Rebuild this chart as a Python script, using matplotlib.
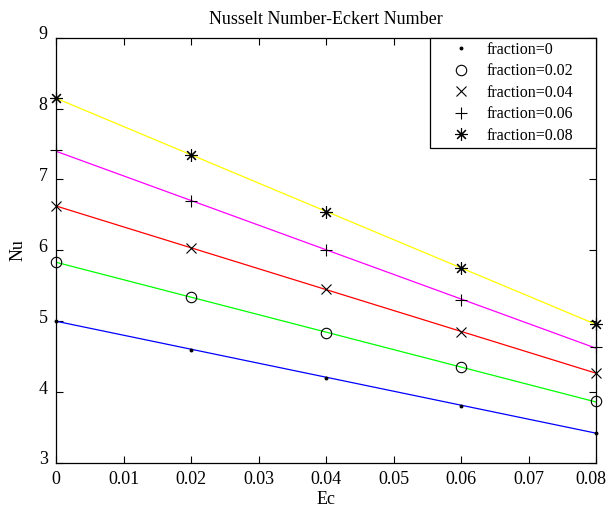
import numpy as np
import matplotlib
matplotlib.use("Agg")
import matplotlib.pyplot as plt
import matplotlib.transforms as mtransforms

ec = [0.0, 0.02, 0.04, 0.06, 0.08]
nu_f000 = [5.01, 4.60, 4.20, 3.81, 3.43]
nu_f002 = [5.84, 5.34, 4.83, 4.35, 3.87]
nu_f004 = [6.63, 6.03, 5.45, 4.85, 4.27]
nu_f006 = [7.41, 6.69, 6.01, 5.30, 4.63]
nu_f008 = [8.15, 7.35, 6.54, 5.75, 4.96]
labels = ["fraction=0", "fraction=0.02", "fraction=0.04", "fraction=0.06", "fraction=0.08"]
series = [nu_f000, nu_f002, nu_f004, nu_f006, nu_f008]
xticks = [0, 0.01, 0.02, 0.03, 0.04, 0.05, 0.06, 0.07, 0.08]
xticklabels = ["0", "0.01", "0.02", "0.03", "0.04", "0.05", "0.06", "0.07", "0.08"]
yticks = [3, 4, 5, 6, 7, 8, 9]

line_colors = ["#0000ff", "#00ff00", "#ff0000", "#ff00ff", "#ffff00"]
markers = [".", "o", "x", "+", (8, 2, 0)]
msizes = [4, 7.5, 7.5, 9, 9]

plt.rcParams['font.family'] = ['Liberation Serif', 'DejaVu Serif']

fig = plt.figure(figsize=(6.09, 5.13), dpi=100)
ax = fig.add_axes([0.092, 0.0975, 0.887, 0.829])

x = np.array(ec)
for ys, c in zip(series, line_colors):
    p = np.polyfit(x, np.array(ys), 1)
    ax.plot(x, np.polyval(p, x), color=c, lw=0.9, zorder=2)
for ys, m, ms, lab in zip(series, markers, msizes, labels):
    ax.plot(x, ys, linestyle="none", marker=m, markersize=ms, color="black",
            markerfacecolor="none" if m == "o" else "black",
            markeredgewidth=0.8, label=lab, zorder=3, clip_on=False)

ax.set_xlim(0, 0.08)
ax.set_ylim(3, 9)
ax.set_xticks(xticks)
ax.set_xticklabels(xticklabels)
ax.set_yticks(yticks)
ax.tick_params(direction="in", top=True, right=True, length=5, width=0.8,
               labelsize=13, pad=6)
for s in ax.spines.values():
    s.set_linewidth(0.9)

offset = mtransforms.ScaledTranslation(0, 3.6 / 72, fig.dpi_scale_trans)
for lbl in ax.get_yticklabels():
    lbl.set_transform(lbl.get_transform() + offset)
off_x = mtransforms.ScaledTranslation(-3.5 / 72, 0, fig.dpi_scale_trans)
ax.get_xticklabels()[-1].set_transform(ax.get_xticklabels()[-1].get_transform() + off_x)

ax.set_title("Nusselt Number-Eckert Number", fontsize=13, pad=10)
ax.set_xlabel("Ec", fontsize=13, labelpad=2)
ax.set_ylabel("Nu", fontsize=13, labelpad=9)

leg = ax.legend(loc="upper right", bbox_to_anchor=(0.693, 0.8, 0.307, 0.2),
                mode="expand", borderaxespad=0, fancybox=False,
                edgecolor="black", framealpha=1, fontsize=11.5,
                handlelength=3.35, handletextpad=-0.1, borderpad=0.25,
                labelspacing=0.35)
leg.get_frame().set_linewidth(0.9)

fig.savefig("out.png", dpi=100)
